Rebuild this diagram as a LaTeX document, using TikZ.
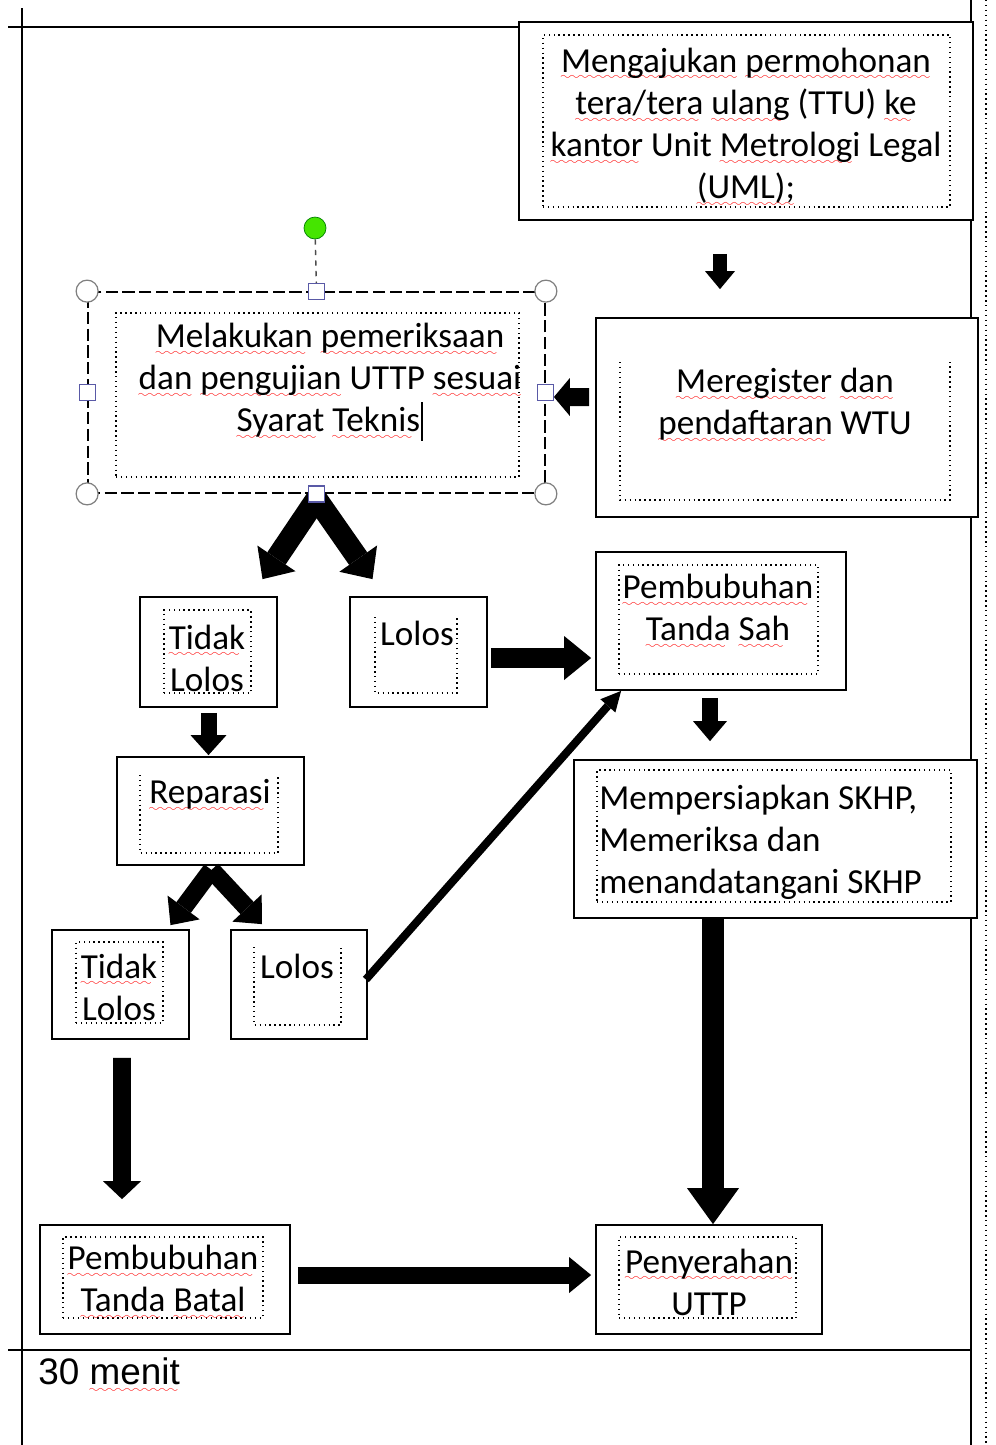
\documentclass[tikz,border=0pt]{standalone}
\usepackage{fontspec}
\setmainfont{Carlito}
\newfontfamily\arialfont{Liberation Sans}
\usetikzlibrary{arrows.meta,calc,fit}

% red wavy underline of the spell checker
\font\wavefont=lasy6
\newsavebox\typobox
\newcommand\typo[1]{\leavevmode\sbox\typobox{#1}%
  \rlap{\lower4.5pt\hbox to\wd\typobox{\color{red}\leaders\hbox{\wavefont\char58}\hfil}}%
  \usebox\typobox}

\tikzset{
  outerbox/.style = {draw, line width=1pt, fill=white, inner sep=0pt},
  dotbox/.style   = {draw, dotted, line width=0.8pt, inner sep=0pt},
  dotline/.style  = {dotted, line width=0.8pt},
  txt/.style      = {align=center, inner sep=0pt, font=\fontsize{20}{24}\selectfont},
  fatarrow/.style args = {#1/#2/#3}{line width=#1,
                     -{Triangle[width=#2, length=#3, line width=0pt]}},
  grip/.style     = {circle, draw=gray, fill=white, line width=0.7pt,
                     minimum size=0.44cm, inner sep=0pt},
  handle/.style   = {rectangle, draw=gray!70!blue, fill=white, line width=0.7pt,
                     minimum size=0.32cm, inner sep=0pt},
  rothandle/.style= {circle, draw=green!50!black, fill=green!60!lime!90!black,
                     minimum size=0.44cm, inner sep=0pt}
}

\begin{document}
\begin{tikzpicture}[x=0.02cm, y=-0.02cm]
\useasboundingbox (0,0) rectangle (995,1445);
\fill[white] (0,0) rectangle (995,1445);

% page frame
\draw[line width=1pt] (22,8) -- (22,1445);
\draw[line width=1pt] (8,27) -- (971,27);
\draw[line width=1.6pt] (971,0) -- (971,1445);
\draw[dotline] (986,0) -- (986,1445);
\draw[line width=1pt] (8,1350) -- (971,1350);

% boxes
\node[outerbox, fit={(519,22) (973,220)}] (ajukan) {};
\node[dotbox, fit={(543,35) (950,207)}] (ajukan-in) {};
\node[txt] (ajukan-t) at (746,127) {\typo{Mengajukan} \typo{permohonan}\\
  \typo{tera/tera} \typo{ulang} (TTU) \typo{ke}\\
  \typo{kantor} Unit \typo{Metrologi} Legal\\ \typo{(UML);}};

\node[outerbox, dash pattern=on 7pt off 2.5pt, fit={(88,292) (545,493)}] (periksa) {};
\node[dotbox, fit={(116,313) (519,477)}] (periksa-in) {};
\node[txt] (periksa-t) at (330,382) {\typo{Melakukan} \typo{pemeriksaan}\\
  \typo{dan} \typo{pengujian} UTTP \typo{sesuai}\\
  \typo{Syarat} \typo{Teknis}\kern0.5pt\rule[-0.25em]{1.4pt}{1.1em}};

\node[outerbox, fit={(596,318) (978,517)}] (daftar) {};
\draw[dotline] (620,362) -- (620,500) -- (950,500) -- (950,362);
\node[txt] (daftar-t) at (785,405) {\typo{Meregister} \typo{dan}\\ \typo{pendaftaran} WTU};

\node[outerbox, fit={(140,597) (277,707)}] (tidak1) {};
\node[dotbox, fit={(164,610) (251,693)}] (tidak1-in) {};
\node[txt] (tidak1-t) at (207,658) {\typo{Tidak}\\ Lolos};

\node[outerbox, fit={(350,597) (487,707)}] (lolos1) {};
\draw[dotline] (375,617) -- (375,693) -- (457,693) -- (457,617);
\node[txt] (lolos1-t) at (417,633) {Lolos};

\node[outerbox, fit={(596,552) (846,690)}] (sah) {};
\node[dotbox, fit={(619,565) (818,674)}] (sah-in) {};
\node[txt] (sah-t) at (718,611) {\typo{Pembubuhan}\\ \typo{Tanda} \typo{Sah}};

\node[outerbox, fit={(117,757) (304,865)}] (reparasi) {};
\draw[dotline] (140,775) -- (140,853) -- (278,853) -- (278,775);
\node[txt] (reparasi-t) at (210,795) {\typo{Reparasi}};

\node[outerbox, fit={(574,760) (977,918)}] (skhp) {};
\node[dotbox, fit={(597,770) (951,902)}] (skhp-in) {};
\node[txt, align=left, anchor=west] (skhp-t) at (599,842) {Mempersiapkan SKHP,\\
  Memeriksa dan\\ menandatangani SKHP};

\node[outerbox, fit={(52,930) (189,1039)}] (tidak2) {};
\node[dotbox, fit={(76,942) (163,1023)}] (tidak2-in) {};
\node[txt] (tidak2-t) at (119,987) {\typo{Tidak}\\ Lolos};

\node[outerbox, fit={(231,930) (367,1039)}] (lolos2) {};
\draw[dotline] (254,947) -- (254,1025) -- (341,1025) -- (341,947);
\node[txt] (lolos2-t) at (297,966) {Lolos};

\node[outerbox, fit={(40,1225) (290,1334)}] (batal) {};
\node[dotbox, fit={(63,1237) (263,1318)}] (batal-in) {};
\node[txt] (batal-t) at (163,1282) {\typo{Pembubuhan}\\ \typo{Tanda} \typo{Batal}};

\node[outerbox, fit={(596,1225) (822,1334)}] (serah) {};
\node[dotbox, fit={(619,1237) (796,1318)}] (serah-in) {};
\node[txt] (serah-t) at (709,1282) {\typo{Penyerahan}\\ UTTP};

\node[anchor=west, inner sep=0pt, font=\arialfont\fontsize{21}{25}\selectfont]
  (waktu) at (38,1375) {30 \typo{menit}};

% arrows
\draw[fatarrow={0.28cm/0.6cm/0.36cm}] ($(ajukan.south)+(-26,33)$) -- ($(daftar.north)+(-67,-28)$);
\draw[fatarrow={0.36cm/0.76cm/0.32cm}] ($(daftar.west)+(-6,-20.5)$) -- ($(periksa.east)+(8,4.5)$);
\draw[fatarrow={0.44cm/0.92cm/0.5cm}] ($(periksa.south)+(0,5)$) -- ($(tidak1.north)+(54,-17)$);
\draw[fatarrow={0.44cm/0.92cm/0.5cm}] ($(periksa.south)+(0,5)$) -- ($(lolos1.north)+(-46,-17)$);
\draw[fatarrow={0.4cm/0.88cm/0.54cm}] ($(lolos1.east)+(3,6)$) -- ($(sah.west)+(-4,37)$);
\draw[fatarrow={0.32cm/0.68cm/0.4cm}] ($(sah.south)+(-11,7)$) -- ($(skhp.north)+(-65.5,-18)$);
\draw[fatarrow={0.32cm/0.72cm/0.4cm}] ($(tidak1.south)+(0,5)$) -- ($(reparasi.north)+(-2,-1)$);
\draw[fatarrow={0.36cm/0.8cm/0.44cm}] ($(reparasi.south)+(1,4)$) -- ($(tidak2.north)+(50,-4)$);
\draw[fatarrow={0.36cm/0.8cm/0.44cm}] ($(reparasi.south)+(1,4)$) -- ($(lolos2.north)+(-37,-5)$);
\draw[fatarrow={0.16cm/0.4cm/0.4cm}] ($(lolos2.east)+(-2,-5)$) -- ($(sah.south west)+(26,0)$);
\draw[fatarrow={0.44cm/1.04cm/0.72cm}] ($(skhp.south)+(-62.5,0)$) -- ($(serah.north)+(4,0)$);
\draw[fatarrow={0.36cm/0.76cm/0.36cm}] ($(tidak2.south)+(1.5,18)$) -- ($(batal.north)+(-43,-25)$);
\draw[fatarrow={0.34cm/0.72cm/0.44cm}] ($(batal.east)+(7,-4.5)$) -- ($(serah.west)+(-4,-4.5)$);

% selection handles
\node[rothandle] (putar) at (315,228) {};
\draw[dashed, line width=0.8pt, gray!60!black] (putar) -- (periksa.north);
\foreach \a/\n in {north west/nw, north east/ne, south west/sw, south east/se}
  \node[grip] (grip\n) at (periksa.\a) {};
\foreach \a/\n in {north/n, south/s, east/e, west/w}
  \node[handle] (handle\n) at (periksa.\a) {};
\end{tikzpicture}
\end{document}
